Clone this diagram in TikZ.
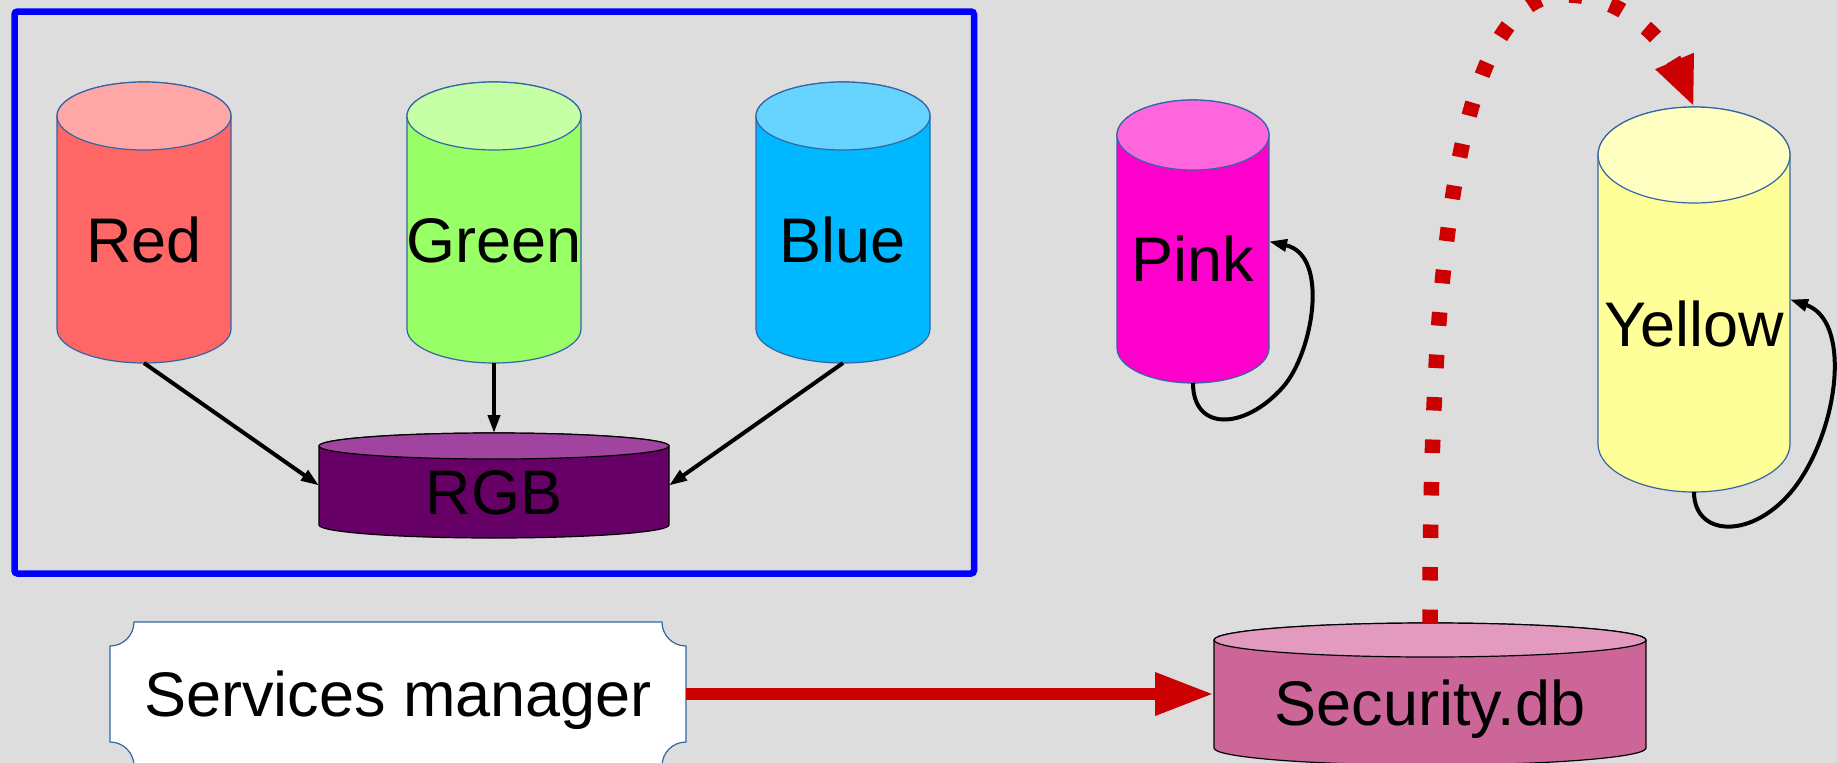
\documentclass[tikz,border=0pt]{standalone}
\usepackage{fontspec}
\setmainfont{Liberation Sans}
\usetikzlibrary{arrows.meta,calc}
\definecolor{bgc}{HTML}{DDDDDD}
\definecolor{cylblue}{HTML}{3465A4}
\definecolor{framec}{HTML}{0000FF}
\definecolor{arrred}{HTML}{CC0000}
\definecolor{rdB}{HTML}{FF6666}\definecolor{rdT}{HTML}{FFA6A6}
\definecolor{grB}{HTML}{99FF66}\definecolor{grT}{HTML}{C6FFA6}
\definecolor{blB}{HTML}{00B8FF}\definecolor{blT}{HTML}{66D4FF}
\definecolor{pkB}{HTML}{FF00CC}\definecolor{pkT}{HTML}{FF66DD}
\definecolor{ylB}{HTML}{FFFF99}\definecolor{ylT}{HTML}{FFFFC2}
\definecolor{rgbB}{HTML}{660066}\definecolor{rgbT}{HTML}{A0449F}
\definecolor{scB}{HTML}{CC6699}\definecolor{scT}{HTML}{E29BBF}
% #1 name, #2 cx, #3 top ellipse centre y, #4 bottom y, #5 rx, #6 ry, #7 style prefix, #8 label
\newcommand{\mycyl}[8]{%
  \path[#7body] ({#2-#5},{-#3}) -- ({#2-#5},{-(#4-#6)})
    arc[start angle=180,end angle=360,x radius=#5,y radius=#6]
    -- ({#2+#5},{-#3})
    arc[start angle=0,end angle=180,x radius=#5,y radius=#6] -- cycle;
  \path[#7top] (#2,{-#3}) ellipse [x radius=#5, y radius=#6];
  \node[box, minimum width={2*#5}, minimum height={#4-#3+#6}] (#1) at (#2,{-(#3-#6+#4)/2}) {};
  \node[lbl] (#1-label) at (#2,{-(#3+#4)/2}) {#8};
}
\begin{document}
\begin{tikzpicture}[x=1pt,y=1pt,
  box/.style={rectangle, inner sep=0pt, outer sep=0pt, draw=none},
  lbl/.style={inner sep=0pt, outer sep=0pt, font=\fontsize{63}{75}\selectfont, text height=45pt, text depth=0pt},
  cylline/.style={draw=cylblue, line width=1.2pt},
  darkline/.style={draw=black, line width=1.2pt},
  rdbody/.style={fill=rdB, cylline}, rdtop/.style={fill=rdT, cylline},
  grbody/.style={fill=grB, cylline}, grtop/.style={fill=grT, cylline},
  blbody/.style={fill=blB, cylline}, bltop/.style={fill=blT, cylline},
  pkbody/.style={fill=pkB, cylline}, pktop/.style={fill=pkT, cylline},
  ylbody/.style={fill=ylB, cylline}, yltop/.style={fill=ylT, cylline},
  rgbbody/.style={fill=rgbB, darkline}, rgbtop/.style={fill=rgbT, darkline},
  scbody/.style={fill=scB, darkline}, sctop/.style={fill=scT, darkline},
  blk/.style={draw=black, line width=4pt, -{Triangle[length=18pt,width=12pt]}},
  redthick/.style={draw=arrred, line width=12.5pt, -{Triangle[length=59pt,width=40pt]}},
  reddots/.style={draw=arrred, line width=15.5pt, dash pattern=on 13.5pt off 29pt, -{Triangle[length=50pt,width=38pt]}},
  framebox/.style={rectangle, draw=framec, line width=6.5pt, rounded corners=3pt, inner sep=0pt}
]
\fill[bgc] (0,0) rectangle (1837,-763);
\useasboundingbox (0,0) rectangle (1837,-763);

% group frame
\node[framebox, minimum width=959.5pt, minimum height=562pt] (frame) at (494.25,-292.5) {};

% cylinders
\mycyl{redcyl}{144}{116}{363}{87}{34}{rd}{Red}
\mycyl{greencyl}{494}{116}{363}{87}{34}{gr}{Green}
\mycyl{bluecyl}{843}{116}{363}{87}{34}{bl}{Blue}
\mycyl{rgbcyl}{494}{446}{538}{175}{13}{rgb}{RGB}
\mycyl{pinkcyl}{1193}{135}{383}{76}{35}{pk}{Pink}
\mycyl{yellowcyl}{1694}{155}{492}{96}{48}{yl}{Yellow}
\mycyl{seccyl}{1430}{640}{765}{216}{17}{sc}{Security.db}

% services manager
\path[fill=white, draw=cylblue, line width=1.2pt]
  (134,-622) -- (662,-622) arc[start angle=180,end angle=270,radius=24]
  -- (686,-742) arc[start angle=90,end angle=180,radius=24]
  -- (134,-766) arc[start angle=0,end angle=90,radius=24]
  -- (110,-646) arc[start angle=270,end angle=360,radius=24] -- cycle;
\node[box, lbl, minimum width=576pt, minimum height=144pt] (sm) at (398,-694) {Services manager};

% connectors
\draw[blk] (redcyl.south) -- (rgbcyl.west);
\draw[blk] (greencyl.south) -- (rgbcyl.north);
\draw[blk] (bluecyl.south) -- (rgbcyl.east);

\coordinate (pkmid) at (1283,-387);
\draw[blk] (pinkcyl.south) .. controls (1193,-432) and (1245,-430) .. (pkmid)
  .. controls (1313,-353) and (1330,-255) .. (pinkcyl.east);

\coordinate (ylmid) at (1800,-480);
\draw[blk] (yellowcyl.south) .. controls (1694,-540) and (1760,-540) .. (ylmid)
  .. controls (1840,-420) and (1850,-320) .. (yellowcyl.east);

\draw[redthick] (sm.east) -- (seccyl.west);

\coordinate (peak) at (1560,5);
\draw[reddots] (seccyl.north) .. controls (1430,-300) and (1450,0) .. (peak)
  .. controls (1630,8) and (1672,-55) .. (yellowcyl.north);
\end{tikzpicture}
\end{document}
